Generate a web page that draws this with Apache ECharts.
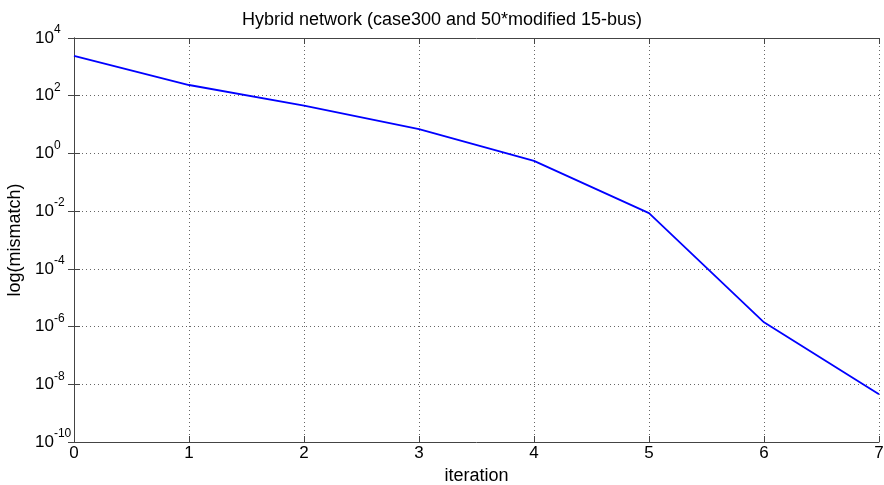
<!DOCTYPE html>
<html>
<head>
<meta charset="utf-8">
<script src="https://cdn.jsdelivr.net/npm/echarts@6/dist/echarts.min.js"></script>
<style>
  html, body { margin: 0; padding: 0; background: #fff; }
  #chart { width: 884px; height: 485px; }
</style>
</head>
<body>
<div id="chart"></div>
<script>
// iterations and mismatch values
var iterations = [0, 1, 2, 3, 4, 5, 6, 7];
var mismatch = [2400, 235, 45, 6.9, 0.55, 0.0085, 1.4e-6, 4.5e-9];

var chart = echarts.init(document.getElementById('chart'));
var font = 'Liberation Sans, Arial, sans-serif';
var axisColor = '#444';
var dotted = { lineStyle: { type: [1, 3], color: '#666' } };

// plain copy of an axis for the top/right sides of the box (ticks only)
function mirror(base, pos) {
    return Object.assign({}, base, {
        position: pos,
        name: '',
        axisLabel: { show: false },
        splitLine: { show: false }
    });
}

var xBase = {
    type: 'value',
    min: 0,
    max: 7,
    interval: 1,
    axisLine: { lineStyle: { color: axisColor } },
    axisTick: { inside: true, length: 6, lineStyle: { color: axisColor } }
};
var yBase = {
    type: 'log',
    logBase: 10,
    min: 1e-10,
    max: 1e4,
    interval: 2,
    axisLine: { lineStyle: { color: axisColor } },
    axisTick: { inside: true, length: 6, lineStyle: { color: axisColor } },
    minorTick: { show: false }
};

chart.setOption({
    animation: false,
    title: {
        text: 'Hybrid network (case300 and 50*modified 15-bus)',
        left: 'center',
        top: 6,
        textStyle: { fontFamily: font, fontSize: 18, fontWeight: 'normal', color: '#000' }
    },
    grid: {
        left: 74,
        right: 5,
        top: 38,
        bottom: 43,
        containLabel: false,
        outerBoundsMode: 'none'
    },
    xAxis: [
        Object.assign({}, xBase, {
            position: 'bottom',
            name: 'iteration',
            nameLocation: 'middle',
            nameGap: 22,
            nameTextStyle: { fontFamily: font, fontSize: 18, color: '#000' },
            axisLabel: { fontFamily: font, fontSize: 17, color: '#000', margin: 3 },
            splitLine: dotted
        }),
        mirror(xBase, 'top')
    ],
    yAxis: [
        Object.assign({}, yBase, {
            position: 'left',
            name: 'log(mismatch)',
            nameLocation: 'middle',
            nameGap: 40,
            nameTextStyle: { fontFamily: font, fontSize: 18, color: '#000' },
            axisLabel: {
                margin: 39,
                align: 'left',
                formatter: function (v) {
                    var e = Math.round(Math.log10(v));
                    return '{b|10}{s|' + e + '}';
                },
                rich: {
                    b: { fontFamily: font, fontSize: 17, color: '#000', verticalAlign: 'middle' },
                    s: { fontFamily: font, fontSize: 12, color: '#000', lineHeight: 28, verticalAlign: 'top' }
                }
            },
            splitLine: dotted
        }),
        mirror(yBase, 'right')
    ],
    series: [{
        type: 'line',
        xAxisIndex: 0,
        yAxisIndex: 0,
        data: iterations.map(function (x, i) { return [x, mismatch[i]]; }),
        showSymbol: false,
        lineStyle: { color: '#0000ff', width: 1.8 }
    }]
});
</script>
</body>
</html>
